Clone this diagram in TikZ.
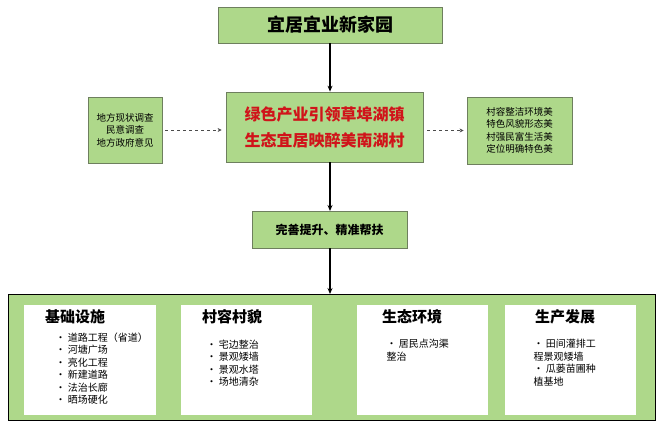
\documentclass[tikz,border=0pt]{standalone}
\usepackage{fontspec}
\setmainfont{Noto Sans CJK SC}
\usetikzlibrary{arrows.meta}
\definecolor{gfill}{HTML}{AED88A}
\definecolor{gline}{HTML}{6E7F5E}
\definecolor{rtxt}{HTML}{D0141A}
\begin{document}
\begin{tikzpicture}[x=1pt,y=-1pt,
 gbox/.style={draw=gline,fill=gfill,line width=0.8pt,inner sep=0pt},
 wbox/.style={fill=white,draw=none},
 arr/.style={-{Stealth[length=6pt,width=5pt]},line width=1.8pt},
 darr/.style={-{Stealth[length=4pt,width=4pt]},dashed,line width=0.6pt,draw=black!70},
 small/.style={font=\fontsize{9.5}{12.5}\selectfont,align=center},
 head/.style={font=\fontsize{15}{17}\selectfont\bfseries,anchor=north},
 list/.style={font=\fontsize{10}{12.5}\selectfont,align=left,anchor=north west}]
\useasboundingbox (0,0) rectangle (660,426);
\fill[white] (0,0) rectangle (660,426);
\node[gbox,minimum width=224pt,minimum height=36pt,font=\fontsize{18}{20}\selectfont\bfseries] (top) at (330,25) {宜居宜业新家园};
\node[gbox,minimum width=197pt,minimum height=70pt,font=\fontsize{16}{26}\selectfont\bfseries,text=rtxt,align=center] (mid) at (324.5,127) {绿色产业引领草埠湖镇\\生态宜居映醉美南湖村};
\node[gbox,minimum width=74pt,minimum height=66pt,small] (left) at (125,130) {地方现状调查\\民意调查\\地方政府意见};
\node[gbox,minimum width=105pt,minimum height=67pt,small] (right) at (519.5,130.5) {村容整洁环境美\\特色风貌形态美\\村强民富生活美\\定位明确特色美};
\node[gbox,minimum width=155pt,minimum height=37pt,font=\fontsize{12}{14}\selectfont\bfseries] (imp) at (329.5,229.5) {完善提升、精准帮扶};
\node[draw=black,fill=gfill,line width=0.8pt,minimum width=647pt,minimum height=126pt,inner sep=0pt] (base) at (331.5,357) {};
\node[wbox,minimum width=132pt,minimum height=110pt] (b1) at (90,360) {};
\node[wbox,minimum width=131pt,minimum height=110pt] (b2) at (246.5,360) {};
\node[wbox,minimum width=131pt,minimum height=110pt] (b3) at (422.5,360) {};
\node[wbox,minimum width=131pt,minimum height=110pt] (b4) at (570.5,360) {};
\node[head] (h1) at (75,306) {基础设施};
\node[head] (h2) at (232,306) {村容村貌};
\node[head] (h3) at (412,306) {生态环境};
\node[head] (h4) at (565,306) {生产发展};
\node[list] (l1) at (52,329) {• 道路工程（省道）\\• 河塘广场\\• 亮化工程\\• 新建道路\\• 法治长廊\\• 晒场硬化};
\node[list] (l2) at (203,336) {• 宅边整治\\• 景观矮墙\\• 景观水塔\\• 场地清杂};
\node[list] (l3) at (383,336) {• 居民点沟渠\\整治};
\node[list] (l4) at (530,336) {• 田间灌排工\\程景观矮墙\\• 瓜蒌苗圃种\\植基地};
\coordinate (c1) at (330,162);
\coordinate (c2) at (330,211);
\coordinate (c3) at (330,248);
\coordinate (c4) at (330,294);
\draw[arr] (top.south) -- (top.south |- mid.north);
\draw[arr] (c1) -- (c2);
\draw[arr] (c3) -- (c4);
\draw[darr] (left.east) ++(3,0) -- ([xshift=-4pt]mid.west |- left.east);
\draw[darr] ([xshift=4pt]mid.east |- right.west) -- ([xshift=-3pt]right.west);
\end{tikzpicture}
\end{document}
